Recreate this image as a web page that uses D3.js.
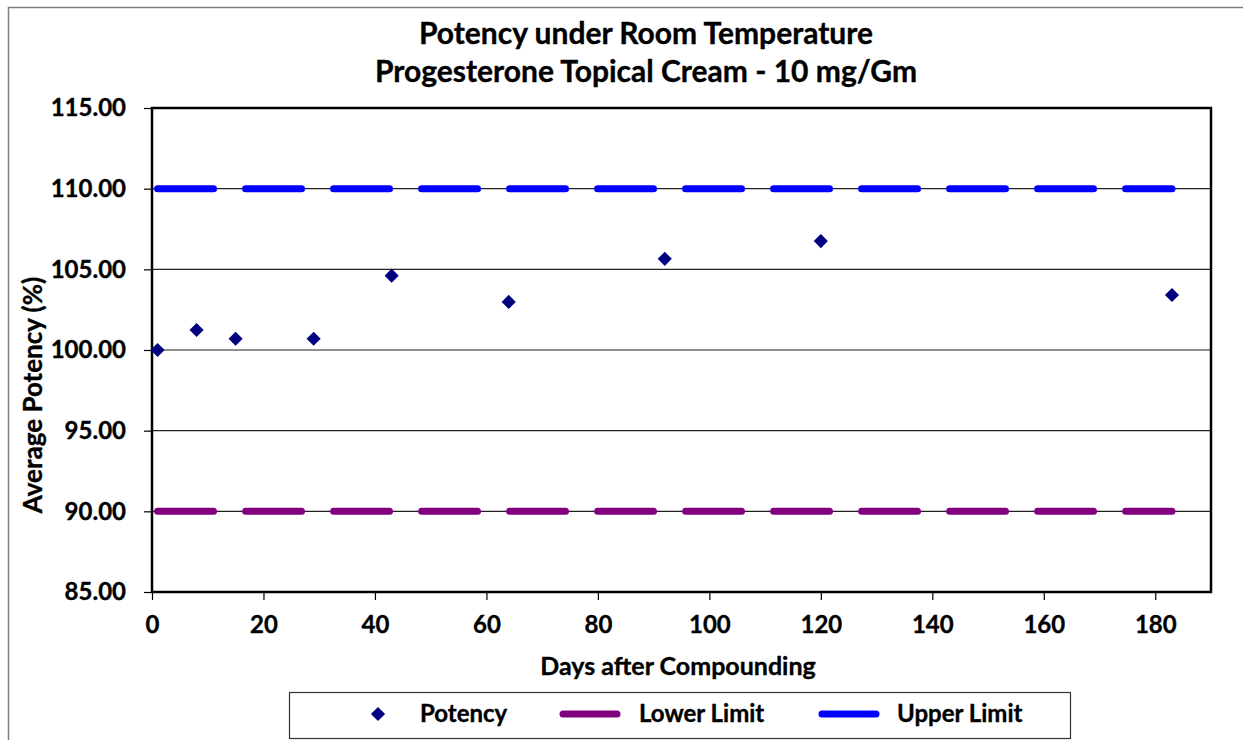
<!DOCTYPE html>
<html><head><meta charset="utf-8">
<script src="https://cdn.jsdelivr.net/npm/d3@7"></script>
<style>
html,body{margin:0;padding:0;background:#fff;}
text{font-family:Lato,"Open Sans",sans-serif;font-weight:bold;fill:#000;stroke:#000;stroke-width:0.35px;}
</style></head>
<body><svg id="c" width="1243" height="740"></svg>
<script>
const days = [1, 8, 15, 29, 43, 64, 92, 120, 183];
const potency = [100.0, 101.24, 100.70, 100.70, 104.61, 102.98, 105.65, 106.75, 103.41];
const lowerLimit = [90, 90];
const upperLimit = [110, 110];
const limitDays = [1, 183];
const xTicks = [0, 20, 40, 60, 80, 100, 120, 140, 160, 180];
const yTicks = [85, 90, 95, 100, 105, 110, 115];
const titleLines = ["Potency under Room Temperature", "Progesterone Topical Cream - 10 mg/Gm"];

const svg = d3.select("#c");
const L = 152, R = 1211, T = 108, B = 592;
const x = d3.scaleLinear().domain([0, 190]).range([L, R]);
const y = d3.scaleLinear().domain([85, 115]).range([B, T]);

// outer chart border
svg.append("rect").attr("x", 8.5).attr("y", 7.5).attr("width", 1300).attr("height", 800)
  .attr("fill", "none").attr("stroke", "#7f7f7f").attr("stroke-width", 1.5);

// gridlines
svg.append("g").selectAll("line").data(yTicks).join("line")
  .attr("x1", L).attr("x2", R).attr("y1", d => y(d)).attr("y2", d => y(d))
  .attr("stroke", "#222").attr("stroke-width", 1.2);

// axes
const yAxis = d3.axisLeft(y).tickValues(yTicks).tickFormat(d3.format(".2f")).tickSize(8).tickPadding(18);
const gy = svg.append("g").attr("transform", `translate(${L},0)`).call(yAxis);
const xAxis = d3.axisBottom(x).tickValues(xTicks).tickFormat(d3.format("d")).tickSize(8).tickPadding(16);
const gx = svg.append("g").attr("transform", `translate(0,${B})`).call(xAxis);
[gx, gy].forEach(g => {
  g.select(".domain").remove();
  g.selectAll(".tick line").attr("stroke", "#000").attr("stroke-width", 1.2);
  g.selectAll(".tick text").style("font-size", "24px").attr("fill", "#000");
});

// plot frame
svg.append("rect").attr("x", L).attr("y", T).attr("width", R - L).attr("height", B - T)
  .attr("fill", "none").attr("stroke", "#000").attr("stroke-width", 2.5);

// limit lines
const limLine = d3.line().x(d => x(d[0])).y(d => y(d[1]));
function drawLimit(vals, color) {
  svg.append("path").datum(limitDays.map((d, i) => [d, vals[i]]))
    .attr("d", limLine).attr("fill", "none").attr("stroke", color)
    .attr("stroke-width", 7).attr("stroke-linecap", "round")
    .attr("stroke-dasharray", "56,32");
}
drawLimit(lowerLimit, "#800080");
drawLimit(upperLimit, "#0000ff");

// potency points
const sq = d3.symbol().type(d3.symbolSquare).size(100)();
svg.append("g").selectAll("path").data(days.map((d, i) => [d, potency[i]])).join("path")
  .attr("d", sq)
  .attr("transform", d => `translate(${x(d[0])},${y(d[1])}) rotate(45)`)
  .attr("fill", "#000080");

// titles
svg.append("g").selectAll("text").data(titleLines).join("text")
  .attr("x", 646).attr("y", (d, i) => 44 + i * 38)
  .attr("text-anchor", "middle").style("font-size", "30px").text(d => d);

svg.append("text").attr("x", 678).attr("y", 675).attr("text-anchor", "middle")
  .style("font-size", "25px").text("Days after Compounding");
svg.append("text").attr("transform", "translate(42,395) rotate(-90)").attr("text-anchor", "middle")
  .style("font-size", "26px").text("Average Potency (%)");

// legend
const lg = svg.append("g");
lg.append("rect").attr("x", 289.5).attr("y", 692.5).attr("width", 781).attr("height", 46)
  .attr("fill", "#fff").attr("stroke", "#333").attr("stroke-width", 1.2);
const ly = 714;
lg.append("path").attr("d", sq)
  .attr("transform", `translate(378,${ly}) rotate(45)`).attr("fill", "#000080");
lg.append("text").attr("x", 420).attr("y", ly + 8).style("font-size", "24px").text("Potency");
lg.append("line").attr("x1", 563).attr("x2", 617).attr("y1", ly).attr("y2", ly)
  .attr("stroke", "#800080").attr("stroke-width", 7).attr("stroke-linecap", "round");
lg.append("text").attr("x", 639).attr("y", ly + 8).style("font-size", "24px").text("Lower Limit");
lg.append("line").attr("x1", 822).attr("x2", 876).attr("y1", ly).attr("y2", ly)
  .attr("stroke", "#0000ff").attr("stroke-width", 7).attr("stroke-linecap", "round");
lg.append("text").attr("x", 897).attr("y", ly + 8).style("font-size", "24px").text("Upper Limit");
</script></body></html>
